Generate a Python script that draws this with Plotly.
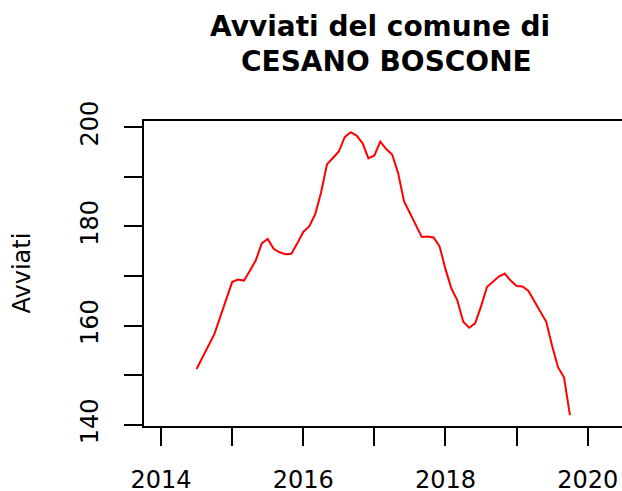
import plotly.graph_objects as go

# Monthly series starting July 2014
start_year = 2014
start_month = 7
avviati = [
    151.3, 153.6, 156.0, 158.3, 161.8, 165.3,
    168.8, 169.3, 169.1, 171.1, 173.2, 176.6, 177.5, 175.5, 174.8, 174.4, 174.5, 176.6,
    178.9, 180.0, 182.4, 186.8, 192.5, 193.8, 195.1, 198.0, 199.0, 198.3, 196.8, 193.7,
    194.3, 197.1, 195.6, 194.5, 190.8, 185.1, 182.6, 180.4, 177.9, 178.0, 177.8, 176.0,
    171.4, 167.5, 165.1, 160.8, 159.6, 160.5, 163.9, 167.8, 168.9, 169.9, 170.5, 169.1,
    168.0, 167.9, 167.0, 164.9, 162.7, 160.8, 155.9, 151.6, 149.6, 142.0,
]
times = [start_year + (start_month - 1 + i) / 12 for i in range(len(avviati))]

x_tickvals = [2014, 2015, 2016, 2017, 2018, 2019, 2020]
x_ticktext = ["2014", "", "2016", "", "2018", "", "2020"]
y_tickvals = [140, 150, 160, 170, 180, 190, 200]
y_ticktext = ["140", "", "160", "", "180", "", "200"]

title_line1 = "Avviati del comune di"
title_line2 = "CESANO BOSCONE"
y_title = "Avviati"

W, H = 622, 491
L, R, T, B = 144, 0, 121, 65
pw, ph = W - L - R, H - T - B

def px_x(px):
    return (px - L) / pw

def px_y(py):
    return (H - B - py) / ph

FONT = "DejaVu Sans"

fig = go.Figure()
fig.add_trace(go.Scatter(x=times, y=avviati, mode="lines",
                         line=dict(color="#FF0000", width=2), showlegend=False,
                         hoverinfo="skip"))

fig.update_layout(
    width=W, height=H,
    margin=dict(l=L, r=R, t=T, b=B, autoexpand=False),
    paper_bgcolor="white", plot_bgcolor="white",
    font=dict(family=FONT, size=24, color="black"),
    xaxis=dict(range=[2013.761, 2020.482], tickvals=x_tickvals, ticktext=x_ticktext,
               showgrid=False, zeroline=False, showline=True, linecolor="black",
               linewidth=2, mirror=True, ticks="outside", ticklen=18, tickwidth=2,
               tickcolor="black", tickfont=dict(family=FONT, size=24),
               ticklabelstandoff=13, automargin=False),
    yaxis=dict(range=[139.8, 201.25], tickvals=y_tickvals, ticktext=y_ticktext,
               showgrid=False, zeroline=False, showline=True, linecolor="black",
               linewidth=2, mirror=False, ticks="outside", ticklen=18, tickwidth=2,
               tickcolor="black", tickangle=-90, tickfont=dict(family=FONT, size=24),
               ticklabelstandoff=16, automargin=False),
    annotations=[
        dict(text=f"<b>{title_line1}</b>", xref="paper", yref="paper",
             x=px_x(379.5), y=px_y(26), xanchor="center", yanchor="middle",
             showarrow=False, font=dict(family=FONT, size=28, color="black")),
        dict(text=f"<b>{title_line2}</b>", xref="paper", yref="paper",
             x=px_x(386), y=px_y(61), xanchor="center", yanchor="middle",
             showarrow=False, font=dict(family=FONT, size=28, color="black")),
        dict(text=y_title, xref="paper", yref="paper", textangle=-90,
             x=px_x(21.5), y=px_y(273), xanchor="center", yanchor="middle",
             showarrow=False, font=dict(family=FONT, size=24, color="black")),
    ],
)

fig.write_html("out.html", config={"displayModeBar": False, "staticPlot": True},
               post_script="document.body.style.margin='0';document.body.style.overflow='hidden';")
